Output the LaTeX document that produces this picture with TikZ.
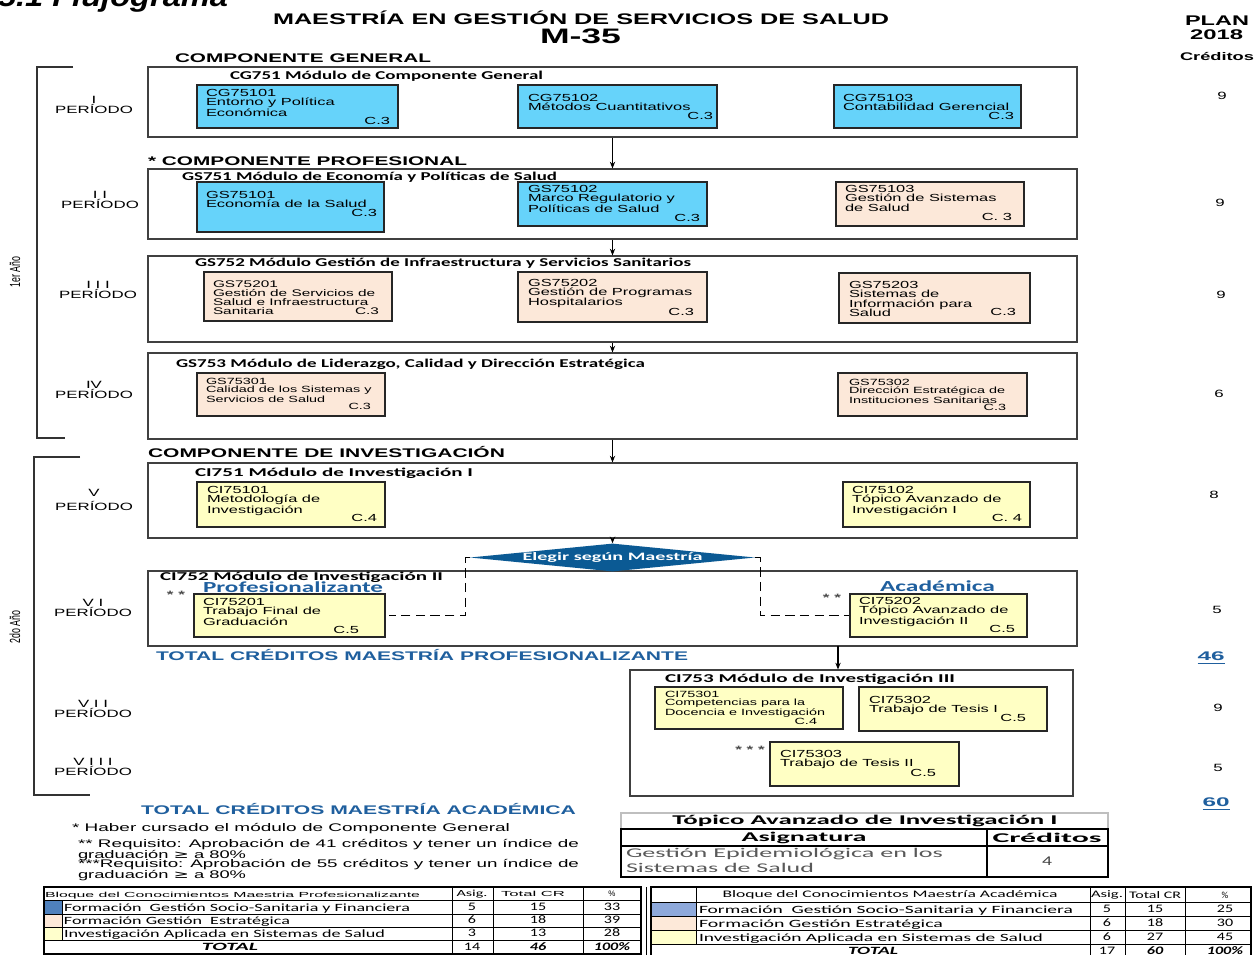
\documentclass[tikz,border=0pt]{standalone}
\usepackage{fontspec}
\usepackage{graphicx}
\setmainfont{Liberation Sans}
\newfontfamily\ar{Liberation Sans}[FakeStretch=1.6]
\newfontfamily\arn{Liberation Sans}[FakeStretch=0.6]
\newfontfamily\cb{Carlito}
\newfontfamily\cbs{Carlito}[FakeStretch=1.4]
\newfontfamily\dv{DejaVu Sans}
\usetikzlibrary{fit,calc,arrows.meta,shapes.geometric}
\newdimen\pxu \pxu=0.75pt
\newcommand\fw[2]{\resizebox{#1\pxu}{\height}{#2}}
\newcommand\gesym{{\dv ≥}}
\definecolor{cblue}{HTML}{66D3FA}
\definecolor{cpeach}{HTML}{FCE8D9}
\definecolor{cyel}{HTML}{FFFFC4}
\definecolor{tblue}{HTML}{1F5F9E}
\definecolor{dblue}{HTML}{0B5A94}
\definecolor{sblue}{HTML}{4F81BD}
\definecolor{sbluetwo}{HTML}{8EA9DB}
\definecolor{speach}{HTML}{FDE9D9}
\definecolor{syel}{HTML}{FFFFCC}
\begin{document}
\begin{tikzpicture}[x=0.75pt,y=-0.75pt,
  tx/.style={inner sep=0pt,outer sep=0pt},
  mod/.style={draw=black!75,line width=0.9pt,inner sep=0pt},
  crs/.style={draw=black!85,line width=0.9pt,inner sep=0pt},
  ct/.style={tx,anchor=north west,align=left,font=\ar\fontsize{7.7}{7.2}\selectfont},
  cts/.style={tx,anchor=north west,align=left,font=\ar\fontsize{6.75}{6}\selectfont},
  cc/.style={tx,anchor=east,font=\ar\fontsize{7.7}{8}\selectfont},
  ccs/.style={tx,anchor=east,font=\ar\fontsize{6.75}{7}\selectfont},
  arr/.style={-{Stealth[length=5pt,width=4pt]},line width=0.9pt},
  per/.style={tx,align=center,font=\ar\fontsize{7.9}{7.6}\selectfont},
  num/.style={tx,font=\ar\fontsize{7.9}{8}\selectfont},
  star/.style={tx,font=\ar\bfseries\fontsize{8}{8}\selectfont,text=black!70},
  bw/.style={tx,anchor=base west},
  tb/.style={tx,font=\cbs\fontsize{8.6}{9}\selectfont}]
\useasboundingbox (0,0) rectangle (1256,954);
\clip (0,0) rectangle (1256,954);
\fill[white] (0,0) rectangle (1256,954);

% ---------- header ----------
\node[bw] (ttl) at (-2,6) {\fw{230}{\bfseries\itshape\fontsize{21}{21}\selectfont 5.1 Flujograma}};
\node[bw] (h1) at (273,24.5) {\fw{616}{\bfseries\fontsize{11.5}{12}\selectfont MAESTRÍA EN GESTIÓN DE SERVICIOS DE SALUD}};
\node[bw] (h2) at (540,43.5) {\fw{81}{\bfseries\fontsize{15.7}{16}\selectfont M-35}};
\node[bw] (h3) at (1185,25) {\fw{64}{\bfseries\fontsize{10.5}{11}\selectfont PLAN}};
\node[bw] (h4) at (1190,39) {\fw{53}{\bfseries\fontsize{10.5}{11}\selectfont 2018}};
\node[bw] (h5) at (1180,60) {\fw{74}{\bfseries\fontsize{8.3}{9}\selectfont Créditos}};
\node[bw] (c1) at (175,62.5) {\fw{256}{\bfseries\fontsize{9.4}{10}\selectfont COMPONENTE GENERAL}};
\node[bw] (c2) at (148,165.5) {\fw{319}{\bfseries\fontsize{9.4}{10}\selectfont * COMPONENTE PROFESIONAL}};
\node[bw] (c3) at (148,457.5) {\fw{357}{\bfseries\fontsize{9.4}{10}\selectfont COMPONENTE DE INVESTIGACIÓN}};
\node[bw,text=tblue] (tp) at (156,660.5) {\fw{532}{\bfseries\fontsize{9.4}{10}\selectfont TOTAL CRÉDITOS MAESTRÍA PROFESIONALIZANTE}};
\node[bw,text=tblue] (ta) at (141,814) {\fw{435}{\bfseries\fontsize{9.4}{10}\selectfont TOTAL CRÉDITOS MAESTRÍA ACADÉMICA}};

% ---------- year brackets ----------
\draw[line width=0.9pt,black!80] (73,67) -- (37,67) -- (37,438) -- (65,438);
\draw[line width=0.9pt,black!80] (80,457) -- (34,457) -- (34,795) -- (90,795);
\node[tx,rotate=90,font=\arn\fontsize{11}{11}\selectfont] (y1) at (15,272) {1er Año};
\node[tx,rotate=90,font=\arn\fontsize{11}{11}\selectfont] (y2) at (15,627) {2do Año};

% ---------- periods ----------
\node[per] (p1) at (94,105) {I\\PERÍODO};
\node[per] (p2) at (100,200) {I I\\PERÍODO};
\node[per] (p3) at (98,290) {I I I\\PERÍODO};
\node[per] (p4) at (94,390) {IV\\PERÍODO};
\node[per,font=\ar\fontsize{7.9}{10}\selectfont] (p5) at (94,500) {V\\PERÍODO};
\node[per] (p6) at (93,608) {V I\\PERÍODO};
\node[per] (p7) at (93,709) {V I I\\PERÍODO};
\node[per,font=\ar\fontsize{7.9}{6.6}\selectfont] (p8) at (93,767) {V I I I\\PERÍODO};

% ---------- credits column ----------
\node[num] (n1) at (1222,96) {9};
\node[num] (n2) at (1220,203) {9};
\node[num] (n3) at (1221,295) {9};
\node[num] (n4) at (1219,394) {6};
\node[num] (n5) at (1214,495) {8};
\node[num] (n6) at (1217,610) {5};
\node[num,text=tblue] (n7) at (1211,658) {\fw{27}{\bfseries\fontsize{9.4}{10}\selectfont\underline{46}}};
\node[num] (n8) at (1218,708) {9};
\node[num] (n9) at (1218,768) {5};
\node[num,text=tblue] (n10) at (1216,804) {\fw{27}{\bfseries\fontsize{9.4}{10}\selectfont\underline{60}}};

% ---------- modules ----------
\node[mod,fit={(148,67) (1077,137)}] (cg751) {};
\node[mod,fit={(148,169) (1077,239)}] (gs751) {};
\node[mod,fit={(148,256) (1077,342)}] (gs752) {};
\node[mod,fit={(148,353) (1077,439)}] (gs753) {};
\node[mod,fit={(148,463) (1077,538)}] (ci751) {};
\node[mod,fit={(148,571) (1077,646)}] (ci752) {};
\node[mod,fit={(630,670) (1073,796)}] (ci753) {};

\node[bw] (m1) at (230,79) {\fw{313}{\cb\bfseries\fontsize{9}{9}\selectfont CG751 Módulo de Componente General}};
\node[bw] (m2) at (182,180) {\fw{375}{\cb\bfseries\fontsize{9}{9}\selectfont GS751 Módulo de Economía y Políticas de Salud}};
\node[bw] (m3) at (195,266) {\fw{496}{\cb\bfseries\fontsize{9}{9}\selectfont GS752 Módulo Gestión de Infraestructura y Servicios Sanitarios}};
\node[bw] (m4) at (176,367) {\fw{469}{\cb\bfseries\fontsize{9}{9}\selectfont GS753 Módulo de Liderazgo, Calidad y Dirección Estratégica}};
\node[bw] (m5) at (195,476) {\fw{278}{\cb\bfseries\fontsize{9}{9}\selectfont CI751 Módulo de Investigación I}};
\node[bw] (m6) at (160,580) {\fw{283}{\cb\bfseries\fontsize{9}{9}\selectfont CI752 Módulo de Investigación II}};
\node[bw] (m7) at (665,682) {\fw{290}{\cb\bfseries\fontsize{9}{9}\selectfont CI753 Módulo de Investigación III}};
\node[bw,text=tblue] (prof) at (203,592) {\fw{180}{\cb\bfseries\fontsize{11.5}{12}\selectfont Profesionalizante}};
\node[bw,text=tblue] (acad) at (880,591) {\fw{115}{\cb\bfseries\fontsize{11.5}{12}\selectfont Académica}};

% ---------- courses ----------
\node[crs,fill=cblue,fit={(197,85) (398,128)}] (cg75101) {};
\node[ct] (x1) at (206,89) {CG75101\\Entorno y Política\\Económica};
\node[cc] (k1) at (390,121) {C.3};
\node[crs,fill=cblue,fit={(518,85) (717,128)}] (cg75102) {};
\node[ct] (x2) at (528,94) {CG75102\\Métodos Cuantitativos};
\node[cc] (k2) at (713,116) {C.3};
\node[crs,fill=cblue,fit={(834,85) (1021,128)}] (cg75103) {};
\node[ct] (x3) at (843,94) {CG75103\\Contabilidad Gerencial};
\node[cc] (k3) at (1014,116) {C.3};

\node[crs,fill=cblue,fit={(197,182) (384,232)}] (gs75101) {};
\node[ct] (x4) at (206,191) {GS75101\\Economía de la Salud};
\node[cc] (k4) at (377,213) {C.3};
\node[crs,fill=cblue,fit={(518,182) (707,226)}] (gs75102) {};
\node[ct] (x5) at (528,185) {GS75102\\Marco Regulatorio y\\Políticas de Salud};
\node[cc] (k5) at (700,218) {C.3};
\node[crs,fill=cpeach,fit={(836,182) (1024,226)}] (gs75103) {};
\node[ct] (x6) at (845,185) {GS75103\\Gestión de Sistemas\\de Salud};
\node[cc] (k6) at (1012,217) {C. 3};

\node[crs,fill=cpeach,fit={(204,272) (392,321)}] (gs75201) {};
\node[ct,font=\ar\fontsize{7.2}{6.6}\selectfont] (x7) at (213,281) {GS75201\\Gestión de Servicios de\\Salud e Infraestructura\\Sanitaria};
\node[cc,font=\ar\fontsize{7.2}{7}\selectfont] (k7) at (379,311) {C.3};
\node[crs,fill=cpeach,fit={(518,272) (707,322)}] (gs75202) {};
\node[ct] (x8) at (528,279) {GS75202\\Gestión de Programas\\Hospitalarios};
\node[cc] (k8) at (694,312) {C.3};
\node[crs,fill=cpeach,fit={(839,273) (1030,323)}] (gs75203) {};
\node[ct] (x9) at (849,281) {GS75203\\Sistemas de\\Información para\\Salud};
\node[cc] (k9) at (1016,312) {C.3};

\node[crs,fill=cpeach,fit={(197,373) (385,416)}] (gs75301) {};
\node[cts] (x10) at (206,378) {GS75301\\Calidad de los Sistemas y\\Servicios de Salud};
\node[ccs] (k10) at (371,406) {C.3};
\node[crs,fill=cpeach,fit={(838,373) (1027,416)}] (gs75302) {};
\node[cts] (x11) at (849,379) {GS75302\\Dirección Estratégica de\\Instituciones Sanitarias};
\node[ccs] (k11) at (1006,407) {C.3};

\node[crs,fill=cyel,fit={(197,482) (385,527)}] (ci75101) {};
\node[ct] (x12) at (207,486) {CI75101\\Metodología de\\Investigación};
\node[cc] (k12) at (377,518) {C.4};
\node[crs,fill=cyel,fit={(843,482) (1030,527)}] (ci75102) {};
\node[ct] (x13) at (852,486) {CI75102\\Tópico Avanzado de\\Investigación I};
\node[cc] (k13) at (1022,518) {C. 4};

\node[crs,fill=cyel,fit={(194,594) (385,637)}] (ci75201) {};
\node[ct] (x14) at (203,598) {CI75201\\Trabajo Final de\\Graduación};
\node[cc] (k14) at (359,630) {C.5};
\node[crs,fill=cyel,fit={(850,594) (1027,637)}] (ci75202) {};
\node[ct] (x15) at (859,597) {CI75202\\Tópico Avanzado de\\Investigación II};
\node[cc] (k15) at (1015,629) {C.5};
\node[star] (s1) at (176,595) {* *};
\node[star] (s2) at (832,598) {* *};

\node[crs,fill=cyel,fit={(655,687) (843,729)}] (ci75301) {};
\node[cts] (x16) at (665,691) {CI75301\\Competencias para la\\Docencia e Investigación};
\node[ccs] (k16) at (817,721) {C.4};
\node[crs,fill=cyel,fit={(859,687) (1047,731)}] (ci75302) {};
\node[ct] (x17) at (869,696) {CI75302\\Trabajo de Tesis I};
\node[cc] (k17) at (1026,718) {C.5};
\node[crs,fill=cyel,fit={(770,742) (959,786)}] (ci75303) {};
\node[ct] (x18) at (780,750) {CI75303\\Trabajo de Tesis II};
\node[cc] (k18) at (936,773) {C.5};
\node[star] (s3) at (750,750) {* * *};

% ---------- decision ----------
\node[diamond,fill=dblue,inner sep=0pt,minimum width=285*0.75pt,minimum height=28*0.75pt] (elegir) at (612.5,557.5) {};
\node[tx,text=white] (el) at (elegir.center) {\fw{180}{\cb\bfseries\fontsize{8.5}{9}\selectfont Elegir según Maestría}};

% ---------- connectors ----------
\draw[arr] (cg751.south) -- (gs751.north);
\draw[arr] (gs751.south) -- (gs752.north);
\draw[arr] (gs752.south) -- (gs753.north);
\draw[arr] (gs753.south) -- (ci751.north);
\draw[arr] (ci751.south) -- (elegir.north);
\coordinate (a7) at (838,646);
\draw[arr] (a7) -- (a7 |- ci753.north);
\draw[line width=0.8pt,dash pattern=on 7pt off 4pt] (elegir.west) -- ++(-4,0) |- ($(ci75201.east)+(3,0)$);
\draw[line width=0.8pt,dash pattern=on 7pt off 4pt] (elegir.east) -- ++(5,0) |- (ci75202.west);

% ---------- notes ----------
\node[bw] (nt1) at (72,831.5) {\fw{438}{\fontsize{8.3}{9}\selectfont * Haber cursado el módulo de Componente General}};
\node[bw] (nt2) at (78,847.5) {\fw{501}{\fontsize{8.3}{9}\selectfont ** Requisito: Aprobación de 41 créditos y tener un índice de}};
\node[bw] (nt3) at (78,858) {\fw{168}{\fontsize{8.3}{9}\selectfont graduación \gesym\ a 80\%}};
\node[bw] (nt4) at (78,867.5) {\fw{501}{\fontsize{8.3}{9}\selectfont ***Requisito: Aprobación de 55 créditos y tener un índice de}};
\node[bw] (nt5) at (78,878) {\fw{168}{\fontsize{8.3}{9}\selectfont graduación \gesym\ a 80\%}};

% ---------- Tópico table ----------
\draw[black!25,line width=0.8pt] (621,829) -- (621,813) -- (1108,813) -- (1108,829);
\draw[line width=0.9pt] (621,829) rectangle (1108,877);
\draw[line width=0.9pt] (621,846) -- (1108,846);
\draw[line width=0.9pt] (987,829) -- (987,877);
\node[tx] (tt) at (865,821) {\fw{385}{\cb\bfseries\fontsize{10}{10}\selectfont Tópico Avanzado de Investigación I}};
\node[tx] (tt1) at (804,838) {\fw{125}{\cb\bfseries\fontsize{10}{10}\selectfont Asignatura}};
\node[tx] (tt2) at (1047,838) {\fw{109}{\cb\bfseries\fontsize{10}{10}\selectfont Créditos}};
\node[bw,text=black!65] (tt3) at (626,857) {\fw{317}{\cb\fontsize{10}{10}\selectfont Gestión Epidemiológica en los}};
\node[bw,text=black!65] (tt4) at (626,872) {\fw{188}{\cb\fontsize{10}{10}\selectfont Sistemas de Salud}};
\node[tx,text=black!75] (tt5) at (1047,861) {\fw{10}{\cb\fontsize{10}{10}\selectfont 4}};

% ---------- left bottom table ----------
\fill[sblue] (44,900) rectangle (62,914);
\fill[speach] (44,914) rectangle (62,927);
\fill[syel] (44,927) rectangle (62,940);
\draw[line width=0.9pt] (44,887) rectangle (641,954);
\draw[line width=0.6pt] (44,900) -- (641,900) (44,914) -- (641,914) (44,927) -- (641,927) (44,940) -- (641,940);
\draw[line width=0.6pt] (62,900) -- (62,940) (452,887) -- (452,954) (493,887) -- (493,954) (583,887) -- (583,954);
\node[bw] (lh) at (45,897) {\fw{375}{\fontsize{5.5}{6}\selectfont Bloque del Conocimientos Maestria Profesionalizante}};
\node[tx] (lh2) at (472,894) {\fw{31}{\cb\fontsize{7}{7}\selectfont Asig.}};
\node[tx] (lh3) at (533,894) {\fw{64}{\fontsize{5.5}{6}\selectfont Total CR}};
\node[tx] (lh4) at (612,894) {\fontsize{6}{6}\selectfont \%};
\node[bw] (lr1) at (64,911) {\fw{346}{\cb\fontsize{8.3}{9}\selectfont Formación \ Gestión Socio-Sanitaria y Financiera}};
\node[bw] (lr2) at (64,924) {\fw{226}{\cb\fontsize{8.3}{9}\selectfont Formación Gestión \ Estratégica}};
\node[bw] (lr3) at (64,937) {\fw{321}{\cb\fontsize{8.3}{9}\selectfont Investigación Aplicada en Sistemas de Salud}};
\node[tb] (l11) at (472,907) {5};
\node[tb] (l12) at (538,907) {15};
\node[tb] (l13) at (612,907) {33};
\node[tb] (l21) at (472,920) {6};
\node[tb] (l22) at (538,920) {18};
\node[tb] (l23) at (612,920) {39};
\node[tb] (l31) at (472,933) {3};
\node[tb] (l32) at (538,933) {13};
\node[tb] (l33) at (612,933) {28};
\node[tb] (l40) at (230,947) {\fw{56}{\cb\bfseries\itshape\fontsize{8.3}{9}\selectfont TOTAL}};
\node[tb] (l41) at (472,947) {14};
\node[tb] (l42) at (538,947) {\bfseries\itshape 46};
\node[tb] (l43) at (612,947) {\bfseries\itshape 100\%};

% ---------- right bottom table ----------
\fill[sbluetwo] (651,902) rectangle (696,916);
\fill[speach] (651,916) rectangle (696,930);
\fill[syel] (651,930) rectangle (696,944);
\draw[line width=0.6pt] (646,887) -- (646,960);
\draw[line width=0.9pt] (651,960) -- (651,887) -- (1251,887) -- (1251,960);
\draw[line width=0.6pt] (651,902) -- (1251,902) (651,916) -- (1251,916) (651,930) -- (1251,930) (651,944) -- (1251,944);
\draw[line width=0.6pt] (696,887) -- (696,944) (1090,887) -- (1090,960) (1125,887) -- (1125,960) (1185,887) -- (1185,960);
\node[tx] (rh) at (890,895) {\fw{335}{\cb\fontsize{7.5}{8}\selectfont Bloque del Conocimientos Maestría Académica}};
\node[tx] (rh2) at (1107,895) {\fw{32}{\cb\fontsize{7.5}{8}\selectfont Asig.}};
\node[tx] (rh3) at (1155,895) {\fw{52}{\cb\fontsize{7.5}{8}\selectfont Total CR}};
\node[tx] (rh4) at (1225,895) {\cb\fontsize{7}{7}\selectfont \%};
\node[bw] (rr1) at (699,913) {\fw{374}{\cb\fontsize{8.3}{9}\selectfont Formación \ Gestión Socio-Sanitaria y Financiera}};
\node[bw] (rr2) at (699,927) {\fw{244}{\cb\fontsize{8.3}{9}\selectfont Formación Gestión Estratégica}};
\node[bw] (rr3) at (699,941) {\fw{344}{\cb\fontsize{8.3}{9}\selectfont Investigación Aplicada en Sistemas de Salud}};
\node[tb] (r11) at (1107,909) {5};
\node[tb] (r12) at (1155,909) {15};
\node[tb] (r13) at (1225,909) {25};
\node[tb] (r21) at (1107,923) {6};
\node[tb] (r22) at (1155,923) {18};
\node[tb] (r23) at (1225,923) {30};
\node[tb] (r31) at (1107,937) {6};
\node[tb] (r32) at (1155,937) {27};
\node[tb] (r33) at (1225,937) {45};
\node[tb] (r40) at (873,951) {\fw{50}{\cb\bfseries\itshape\fontsize{8.3}{9}\selectfont TOTAL}};
\node[tb] (r41) at (1107,951) {17};
\node[tb] (r42) at (1155,951) {\bfseries\itshape 60};
\node[tb] (r43) at (1225,951) {\bfseries\itshape 100\%};
\end{tikzpicture}
\end{document}
